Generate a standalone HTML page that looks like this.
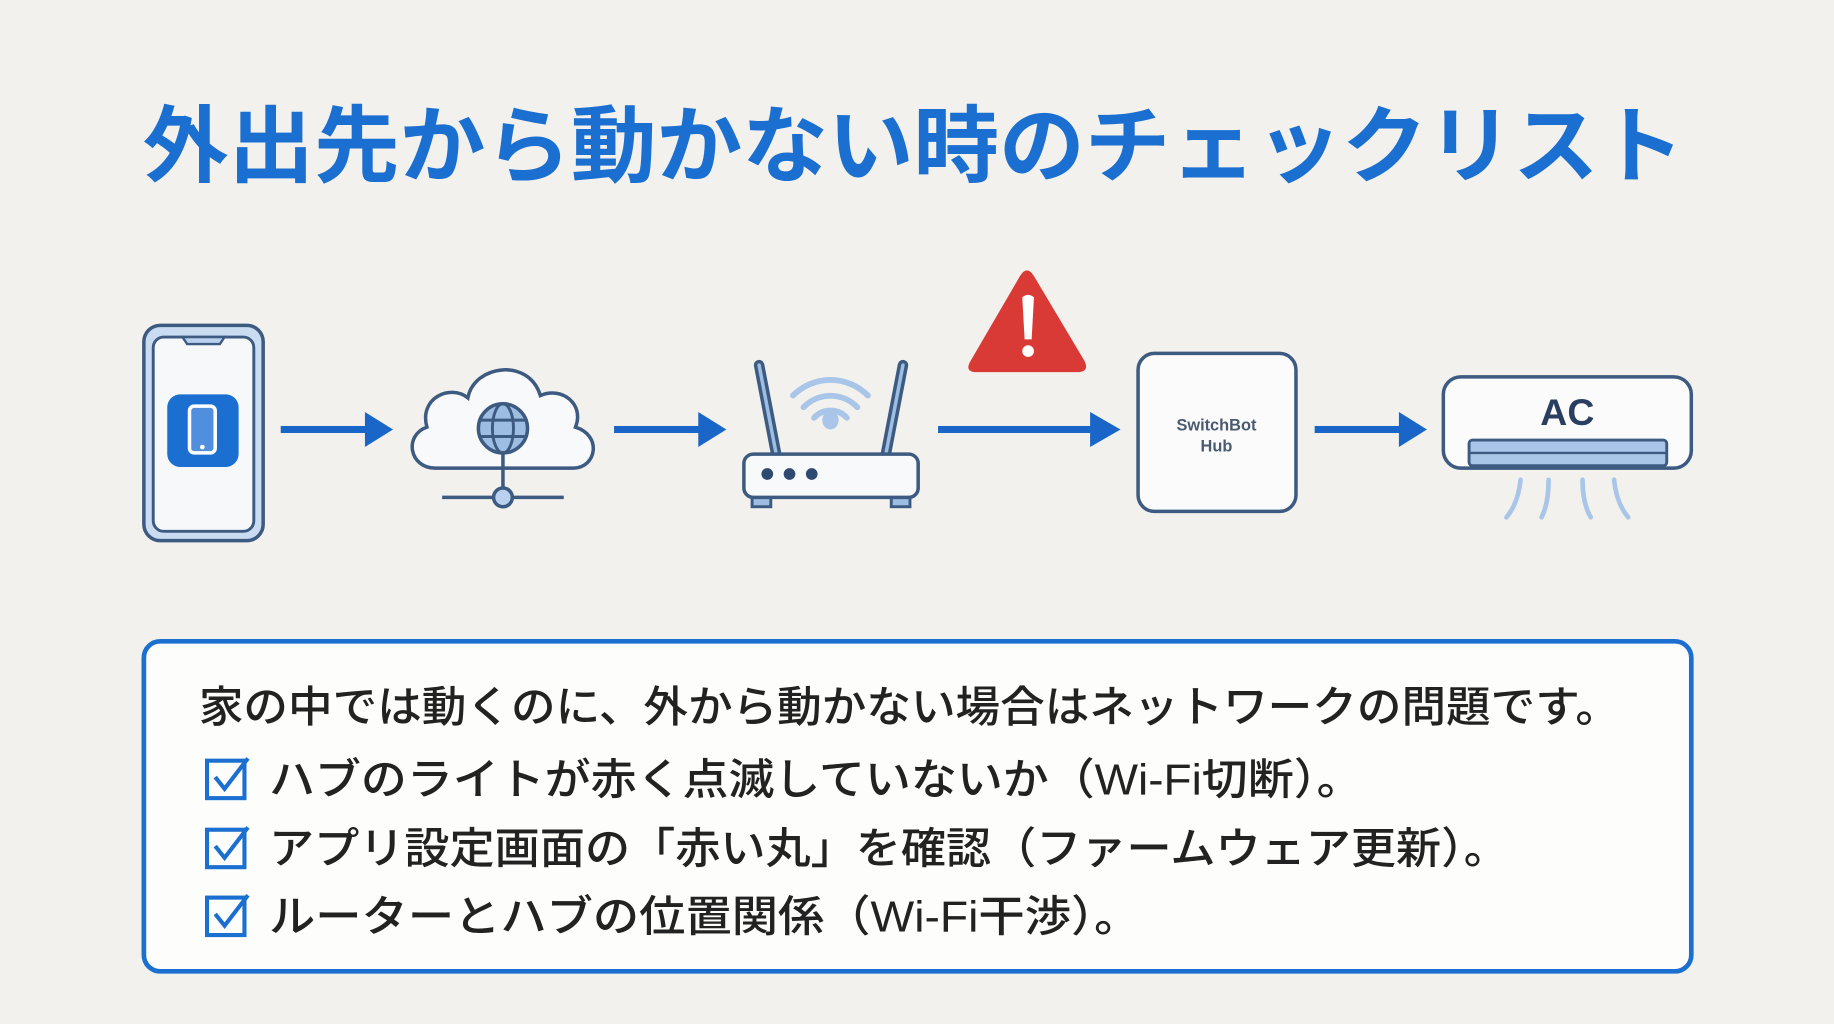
<!DOCTYPE html>
<html><head><meta charset="utf-8"><style>
html,body{margin:0;padding:0;background:#f2f1ed;}
svg{display:block}
text{font-family:"Liberation Sans","Noto Sans CJK JP",sans-serif;}
</style></head><body>
<svg width="1834" height="1024" viewBox="0 0 1568 875" preserveAspectRatio="none" xmlns="http://www.w3.org/2000/svg">
<rect width="1568" height="875" fill="#f2f1ed"/>
<text x="122" y="150" font-size="72" font-weight="bold" fill="#1a6fd0" textLength="1318" lengthAdjust="spacingAndGlyphs">外出先から動かない時のチェックリスト</text>

<!-- phone -->
<rect x="123" y="278" width="102" height="184" rx="14" fill="#c9dcf1" stroke="#3d5a80" stroke-width="3"/>
<rect x="131" y="288" width="86" height="166" rx="9" fill="#f7f8fa" stroke="#3d5a80" stroke-width="2.5"/>
<path d="M156 288 l4 6 h28 l4 -6 z" fill="#b9d1ee" stroke="#3d5a80" stroke-width="2"/>
<rect x="143" y="337" width="61" height="62" rx="11" fill="#1a6fd0"/>
<rect x="162" y="347" width="22" height="40" rx="4" fill="#4f8fdd" stroke="#fff" stroke-width="3"/>
<circle cx="173" cy="382" r="2" fill="#fff"/>

<g fill="#1a66c8">
<rect x="240" y="364" width="78" height="6"/><path d="M312 352 L336 367 L312 382 Z"/>
<rect x="525" y="364" width="78" height="6"/><path d="M597 352 L621 367 L597 382 Z"/>
<rect x="802" y="364" width="136" height="6"/><path d="M932 352 L958 367 L932 382 Z"/>
<rect x="1124" y="364" width="75" height="6"/><path d="M1196 352 L1220 367 L1196 382 Z"/>
</g>

<!-- cloud -->
<path d="M372 400 C350 400 345 372 365 365 C358 340 385 328 400 340 C405 312 452 305 462 338 C480 330 500 345 492 365 C515 372 510 400 490 400 Z" fill="#f8f9fb" stroke="#3d5a80" stroke-width="3"/>
<circle cx="430" cy="366" r="21" fill="#9dbde3" stroke="#3d5a80" stroke-width="3"/>
<ellipse cx="430" cy="366" rx="9" ry="21" fill="none" stroke="#3d5a80" stroke-width="2.5"/>
<line x1="409" y1="359" x2="451" y2="359" stroke="#3d5a80" stroke-width="2.5"/>
<line x1="409" y1="373" x2="451" y2="373" stroke="#3d5a80" stroke-width="2.5"/>
<line x1="430" y1="387" x2="430" y2="418" stroke="#3d5a80" stroke-width="3"/>
<line x1="378" y1="425" x2="482" y2="425" stroke="#3d5a80" stroke-width="3"/>
<circle cx="430" cy="425" r="8" fill="#b9d1ee" stroke="#3d5a80" stroke-width="3"/>

<!-- router -->
<path d="M649 312 L664 390 M772 312 L757 390" stroke="#3d5a80" stroke-width="9" stroke-linecap="round"/>
<path d="M649 312 L664 390 M772 312 L757 390" stroke="#9dbde3" stroke-width="3" stroke-linecap="round"/>
<path d="M678 338 A45 45 0 0 1 742 338 M687 348 A32 32 0 0 1 733 348 M696 357 A19 19 0 0 1 724 357" fill="none" stroke="#a9c6e8" stroke-width="5" stroke-linecap="round"/>
<ellipse cx="710" cy="359" rx="7" ry="8" fill="#a9c6e8"/>
<rect x="643" y="421" width="16" height="12" fill="#9dbde3" stroke="#3d5a80" stroke-width="2.5"/>
<rect x="762" y="421" width="16" height="12" fill="#9dbde3" stroke="#3d5a80" stroke-width="2.5"/>
<rect x="636" y="388" width="149" height="37" rx="8" fill="#f8f9fb" stroke="#3d5a80" stroke-width="3"/>
<circle cx="656" cy="405" r="5" fill="#2f4a70"/><circle cx="675" cy="405" r="5" fill="#2f4a70"/><circle cx="694" cy="405" r="5" fill="#2f4a70"/>

<!-- warning -->
<path d="M872 236 Q878 226 884 236 L927 308 Q932 318 921 318 L835 318 Q824 318 830 308 Z" fill="#d93a35"/>
<path d="M874 254 Q879 250 884 254 L882 290 h-6 z" fill="#fff"/><circle cx="879" cy="300" r="5" fill="#fff"/>

<!-- hub -->
<rect x="973" y="302" width="135" height="135" rx="14" fill="#fbfbfc" stroke="#3d5a80" stroke-width="3"/>
<text x="1040" y="368" font-size="14" font-weight="bold" fill="#4a5a70" text-anchor="middle">SwitchBot</text>
<text x="1040" y="386" font-size="14" font-weight="bold" fill="#4a5a70" text-anchor="middle">Hub</text>

<!-- AC -->
<rect x="1234" y="322" width="212" height="78" rx="15" fill="#fbfbfc" stroke="#3d5a80" stroke-width="3"/>
<text x="1340" y="363" font-size="32" font-weight="bold" fill="#2a3f60" text-anchor="middle">AC</text>
<rect x="1256" y="376" width="169" height="22" rx="3" fill="#a9c6e8" stroke="#3d5a80" stroke-width="2.5"/>
<line x1="1256" y1="387" x2="1425" y2="387" stroke="#3d5a80" stroke-width="2"/>
<path d="M1300 410 Q1298 430 1288 442 M1324 410 Q1324 430 1318 442 M1353 410 Q1353 430 1360 442 M1380 410 Q1382 430 1392 442" fill="none" stroke="#a9c6e8" stroke-width="4" stroke-linecap="round"/>

<!-- box -->
<rect x="123" y="548" width="1323" height="282" rx="14" fill="#fdfdfc" stroke="#1a6fd0" stroke-width="4"/>
<g font-weight="500">
<text x="170" y="617" font-size="37" fill="#222" textLength="1215" lengthAdjust="spacingAndGlyphs">家の中では動くのに、外から動かない場合はネットワークの問題です。</text>
<text x="230" y="679" font-size="37" fill="#222" textLength="935" lengthAdjust="spacingAndGlyphs">ハブのライトが赤く点滅していないか（Wi-Fi切断）。</text>
<text x="230" y="738" font-size="37" fill="#222" textLength="1060" lengthAdjust="spacingAndGlyphs">アプリ設定画面の「赤い丸」を確認（ファームウェア更新）。</text>
<text x="230" y="796" font-size="37" fill="#222" textLength="745" lengthAdjust="spacingAndGlyphs">ルーターとハブの位置関係（Wi-Fi干渉）。</text>
</g>
<g fill="none" stroke="#1a6fd0" stroke-width="3.5">
<rect x="177" y="650" width="32" height="32"/><path d="M184 664 l8 10 l20 -26"/>
<rect x="177" y="709" width="32" height="32"/><path d="M184 723 l8 10 l20 -26"/>
<rect x="177" y="767" width="32" height="32"/><path d="M184 781 l8 10 l20 -26"/>
</g>
</svg>
</body></html>
